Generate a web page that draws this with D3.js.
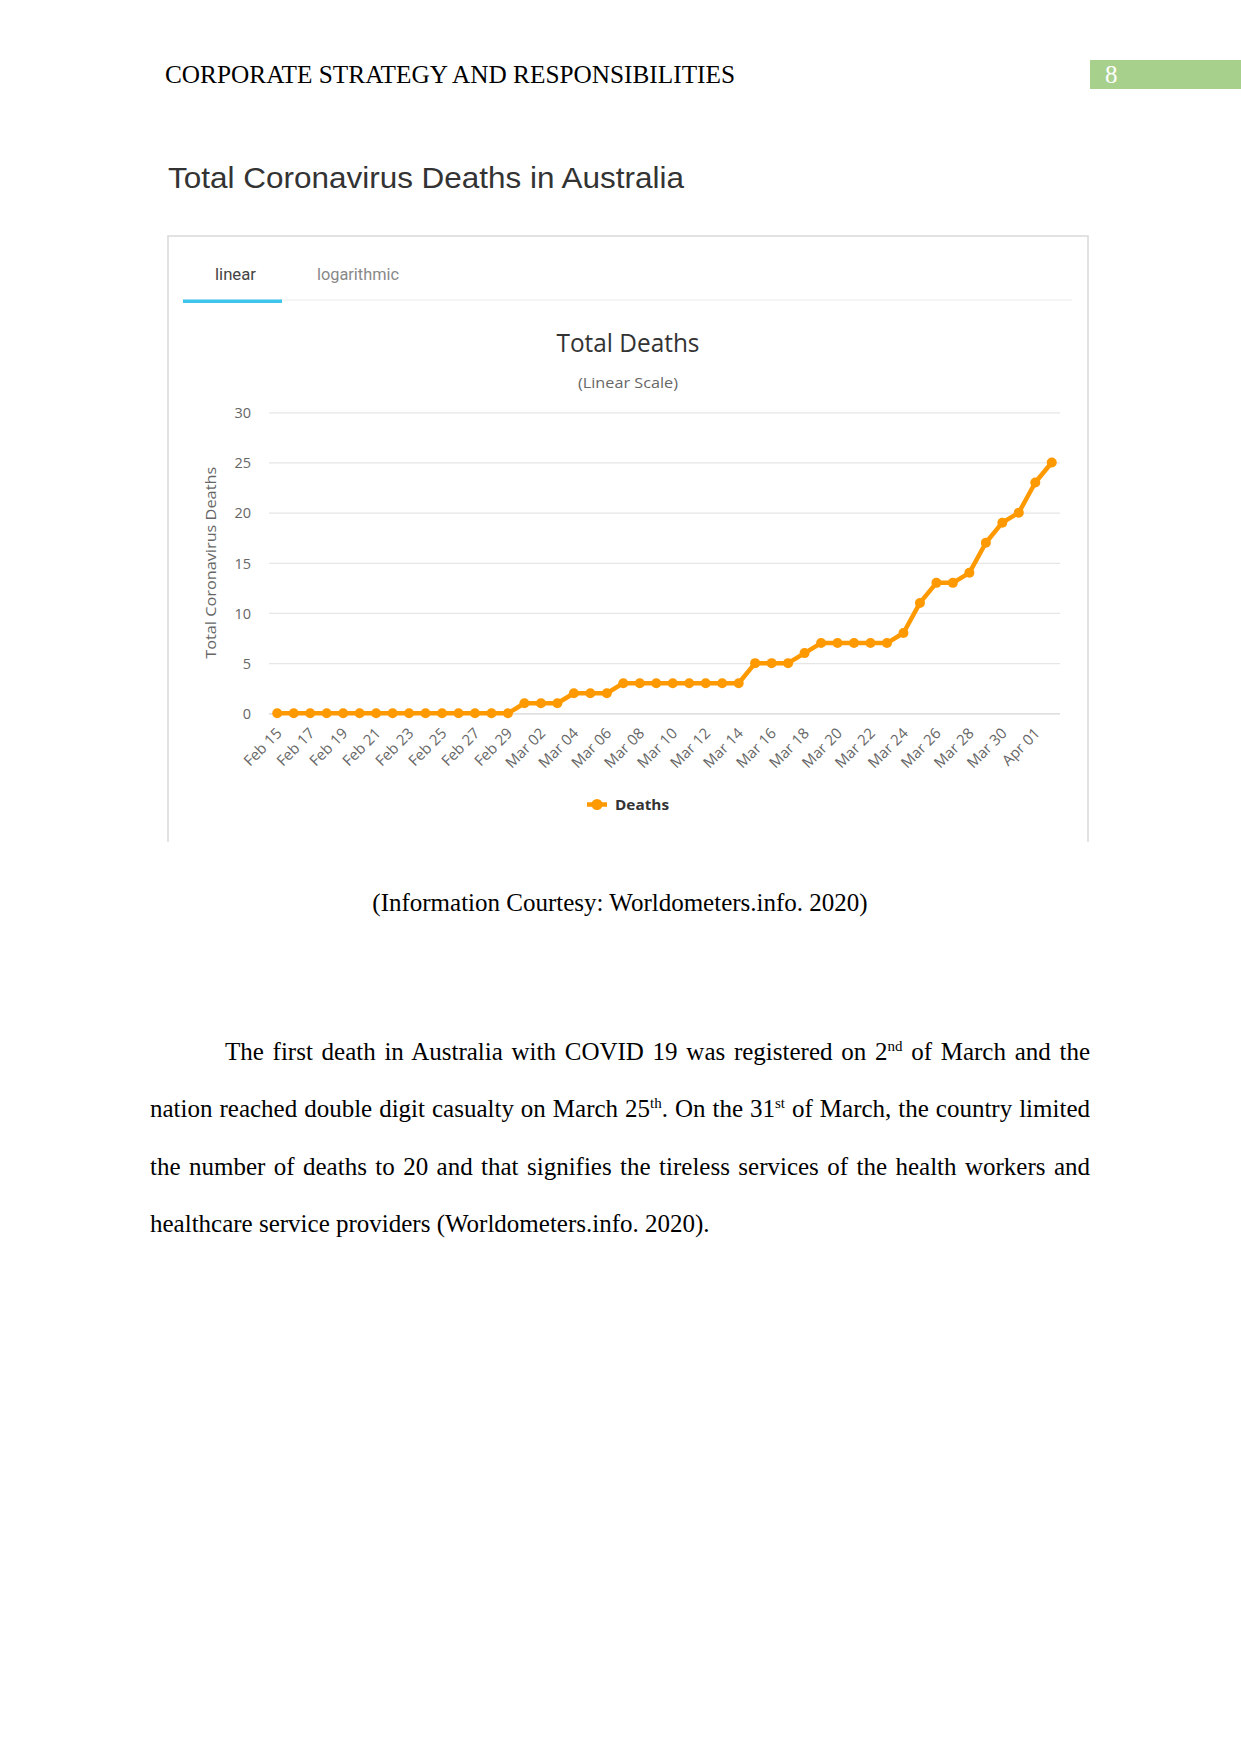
<!DOCTYPE html>
<html>
<head>
<meta charset="utf-8">
<script src="https://cdn.jsdelivr.net/npm/d3@7"></script>
<style>
body { margin: 0; background: #fff; }
#page { position: relative; width: 1241px; height: 1754px; overflow: hidden; background: #fff; }
#page svg { position: absolute; left: 0; top: 0; }
.para { position: absolute; left: 150px; top: 1022.5px; width: 940px;
        font-family: "Liberation Serif", "Times New Roman", serif; font-size: 25px; color: #000; }
.ln { height: 57.5px; line-height: 57.5px; text-align: justify; text-align-last: justify; }
.ln.first { text-indent: 75px; }
.ln.last { text-align: left; text-align-last: left; }
sup { font-size: 15px; line-height: 0; vertical-align: 9px; }
</style>
</head>
<body>
<div id="page"></div>
<script>
// data
const dates = [
  "Feb 15","Feb 16","Feb 17","Feb 18","Feb 19","Feb 20","Feb 21","Feb 22","Feb 23","Feb 24",
  "Feb 25","Feb 26","Feb 27","Feb 28","Feb 29","Mar 01","Mar 02","Mar 03","Mar 04","Mar 05",
  "Mar 06","Mar 07","Mar 08","Mar 09","Mar 10","Mar 11","Mar 12","Mar 13","Mar 14","Mar 15",
  "Mar 16","Mar 17","Mar 18","Mar 19","Mar 20","Mar 21","Mar 22","Mar 23","Mar 24","Mar 25",
  "Mar 26","Mar 27","Mar 28","Mar 29","Mar 30","Mar 31","Apr 01","Apr 02"
];
const deaths = [
  0,0,0,0,0,0,0,0,0,0,
  0,0,0,0,0,1,1,1,2,2,
  2,3,3,3,3,3,3,3,3,5,
  5,5,6,7,7,7,7,7,8,11,
  13,13,14,17,19,20,23,25
];
const yTicks = [0, 5, 10, 15, 20, 25, 30];
const xTickLabels = dates.filter((d, i) => i % 2 == 0);

const W = 1241, H = 1754;
const serif = "'Liberation Serif', 'Times New Roman', serif";
const sans = "'Open Sans', 'DejaVu Sans', sans-serif";

const svg = d3.select("#page").append("svg")
  .attr("width", W).attr("height", H);

// page header
svg.append("text")
  .attr("x", 165).attr("y", 83)
  .style("font-family", serif).style("font-size", "25px").style("fill", "#000")
  .attr("textLength", 570).attr("lengthAdjust", "spacingAndGlyphs")
  .text("CORPORATE STRATEGY AND RESPONSIBILITIES");
svg.append("rect")
  .attr("x", 1090).attr("y", 60).attr("width", 151).attr("height", 29)
  .style("fill", "#a8d08d");
svg.append("text")
  .attr("x", 1105).attr("y", 83)
  .style("font-family", serif).style("font-size", "25px").style("fill", "#fff")
  .text("8");

// heading above the screenshot
svg.append("text")
  .attr("x", 168).attr("y", 188)
  .style("font-family", "'Liberation Sans', Arial, sans-serif").style("font-size", "30px")
  .style("fill", "#333")
  .attr("textLength", 516).attr("lengthAdjust", "spacingAndGlyphs")
  .text("Total Coronavirus Deaths in Australia");

// frame of the chart card (bottom edge cut off)
svg.append("path")
  .attr("d", "M168,842 V236 H1088 V842")
  .style("fill", "none").style("stroke", "#d9d9d9").style("stroke-width", 1.5);

// tabs
svg.append("line")
  .attr("x1", 182).attr("x2", 1072).attr("y1", 300).attr("y2", 300)
  .style("stroke", "#ececec").style("stroke-width", 1);
svg.append("rect")
  .attr("x", 183).attr("y", 299.5).attr("width", 99).attr("height", 3.5)
  .style("fill", "#3ec5ec");
svg.append("text")
  .attr("x", 215).attr("y", 280)
  .style("font-family", "Roboto, sans-serif").style("font-size", "17px").style("fill", "#444")
  .attr("textLength", 41).attr("lengthAdjust", "spacingAndGlyphs")
  .text("linear");
svg.append("text")
  .attr("x", 317).attr("y", 280)
  .style("font-family", "Roboto, sans-serif").style("font-size", "17px").style("fill", "#888")
  .attr("textLength", 82).attr("lengthAdjust", "spacingAndGlyphs")
  .text("logarithmic");

// chart titles
svg.append("text")
  .attr("x", 628).attr("y", 352).attr("text-anchor", "middle")
  .style("font-family", sans).style("font-size", "25px").style("fill", "#333")
  .attr("textLength", 143).attr("lengthAdjust", "spacingAndGlyphs")
  .text("Total Deaths");
svg.append("text")
  .attr("x", 628).attr("y", 388).attr("text-anchor", "middle")
  .style("font-family", sans).style("font-size", "15px").style("fill", "#666")
  .attr("textLength", 100).attr("lengthAdjust", "spacingAndGlyphs")
  .text("(Linear Scale)");

// plot
const L = 269, R = 1060, T = 412.3, B = 713.3;
const x = d3.scalePoint().domain(dates).range([L, R]).padding(0.5);
const y = d3.scaleLinear().domain([0, 30]).range([B, T]);

const gy = svg.append("g").attr("transform", `translate(${L},0)`)
  .call(d3.axisLeft(y).tickValues(yTicks).tickSize(-(R - L)).tickPadding(18));
gy.select(".domain").remove();
gy.selectAll(".tick line").style("stroke", (d) => d == 0 ? "#d4d4d4" : "#e6e6e6").style("stroke-width", 1.3);
gy.selectAll(".tick text")
  .style("font-family", sans).style("font-size", "14.5px").style("fill", "#666")
  .attr("dy", "0.36em");

const gx = svg.append("g").attr("transform", `translate(0,${B})`)
  .call(d3.axisBottom(x).tickValues(xTickLabels).tickSize(0));
gx.select(".domain").remove();
gx.selectAll(".tick text")
  .attr("x", 0).attr("y", 0).attr("dy", 0)
  .attr("transform", "translate(5,21) rotate(-45)")
  .style("text-anchor", "end")
  .style("font-family", sans).style("font-size", "15px").style("fill", "#666");

svg.append("text")
  .attr("transform", `translate(216,${(T + B) / 2}) rotate(-90)`)
  .attr("text-anchor", "middle")
  .style("font-family", sans).style("font-size", "15px").style("fill", "#666")
  .attr("textLength", 192).attr("lengthAdjust", "spacingAndGlyphs")
  .text("Total Coronavirus Deaths");

const line = d3.line().x((d, i) => x(dates[i])).y((d) => y(d));
svg.append("path")
  .datum(deaths)
  .attr("d", line)
  .style("fill", "none").style("stroke", "#ff9900").style("stroke-width", 4.5)
  .style("stroke-linejoin", "round");
svg.selectAll("circle.pt")
  .data(deaths)
  .enter()
  .append("circle")
  .attr("class", "pt")
  .attr("cx", (d, i) => x(dates[i]))
  .attr("cy", (d) => y(d))
  .attr("r", 5)
  .style("fill", "#ff9900");

// legend
svg.append("line")
  .attr("x1", 587).attr("x2", 607).attr("y1", 804.5).attr("y2", 804.5)
  .style("stroke", "#ff9900").style("stroke-width", 4.5);
svg.append("circle").attr("cx", 597).attr("cy", 804.5).attr("r", 5.5).style("fill", "#ff9900");
svg.append("text")
  .attr("x", 615).attr("y", 810)
  .style("font-family", sans).style("font-size", "15px").style("font-weight", "bold").style("fill", "#333")
  .attr("textLength", 54).attr("lengthAdjust", "spacingAndGlyphs")
  .text("Deaths");

// caption
svg.append("text")
  .attr("x", 620).attr("y", 911).attr("text-anchor", "middle")
  .style("font-family", serif).style("font-size", "25px").style("fill", "#000")
  .text("(Information Courtesy: Worldometers.info. 2020)");

// body paragraph
const lines = [
  ["first", "The first death in Australia with COVID 19 was registered on 2<sup>nd</sup> of March and the"],
  ["", "nation reached double digit casualty on March 25<sup>th</sup>. On the 31<sup>st</sup> of March, the country limited"],
  ["", "the number of deaths to 20 and that signifies the tireless services of the health workers and"],
  ["last", "healthcare service providers (Worldometers.info. 2020)."]
];
d3.select("#page").append("div").attr("class", "para")
  .selectAll("div")
  .data(lines)
  .enter()
  .append("div")
  .attr("class", (d) => "ln " + d[0])
  .html((d) => d[1]);
</script>
</body>
</html>
